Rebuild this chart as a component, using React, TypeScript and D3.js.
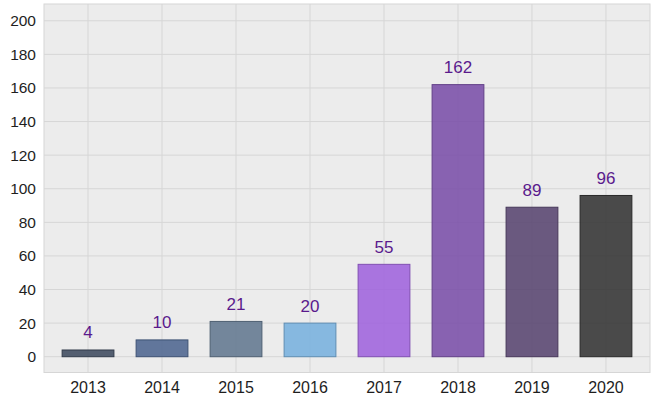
import React from 'react';
import * as d3 from 'd3';

const years = ['2013', '2014', '2015', '2016', '2017', '2018', '2019', '2020'];
const counts = [4, 10, 21, 20, 55, 162, 89, 96];
const barColors = ['#3e4a5e', '#4d6590', '#62778f', '#77b0de', '#9f63dd', '#7a4fa8', '#58446f', '#333333'];
const yTicks = [0, 20, 40, 60, 80, 100, 120, 140, 160, 180, 200];

const W = 655;
const H = 398;
const left = 44;
const right = 650;
const top = 4;
const bottom = 372.5;

export default function App() {
  const x = d3.scaleBand().domain(years).range([left, right]).paddingInner(0.3).paddingOuter(0.245);
  const y = d3.scaleLinear().domain([-9.4, 210]).range([bottom, top]);
  const font = '"Liberation Sans", Arial, Helvetica, sans-serif';

  return (
    <svg width={W} height={H} style={{ position: 'absolute', left: 0, top: 0 }} fontFamily={font}>
      <rect x={left} y={top} width={right - left} height={bottom - top} fill="#ececec" stroke="#d6d6d6" />
      {/* horizontal grid */}
      {yTicks.map((t) => (
        <line key={'h' + t} x1={left} x2={right} y1={y(t)} y2={y(t)} stroke="#d6d6d6" strokeWidth={1} />
      ))}
      {/* vertical grid at category centers */}
      {years.map((yr) => {
        const cx = (x(yr) as number) + x.bandwidth() / 2;
        return <line key={'v' + yr} x1={cx} x2={cx} y1={top} y2={bottom} stroke="#d6d6d6" strokeWidth={1} />;
      })}
      {/* bars */}
      {years.map((yr, i) => (
        <rect
          key={'b' + yr}
          x={x(yr)}
          y={y(counts[i])}
          width={x.bandwidth()}
          height={y(0) - y(counts[i])}
          fill={barColors[i]}
          fillOpacity={0.88}
          stroke={d3.color(barColors[i])!.darker(0.6).formatHex()}
          strokeWidth={1}
        />
      ))}
      {/* value labels */}
      {years.map((yr, i) => (
        <text
          key={'l' + yr}
          x={(x(yr) as number) + x.bandwidth() / 2}
          y={y(counts[i]) - 11.5}
          textAnchor="middle"
          fontSize={17}
          fill="#5a1a8c"
        >
          {counts[i]}
        </text>
      ))}
      {/* y tick labels */}
      {yTicks.map((t) => (
        <text key={'yt' + t} x={36} y={y(t) + 5.5} textAnchor="end" fontSize={15.5} fill="#1e1e1e">
          {t}
        </text>
      ))}
      {/* x tick labels */}
      {years.map((yr) => (
        <text
          key={'xt' + yr}
          x={(x(yr) as number) + x.bandwidth() / 2}
          y={393}
          textAnchor="middle"
          fontSize={16}
          fill="#1e1e1e"
        >
          {yr}
        </text>
      ))}
    </svg>
  );
}
